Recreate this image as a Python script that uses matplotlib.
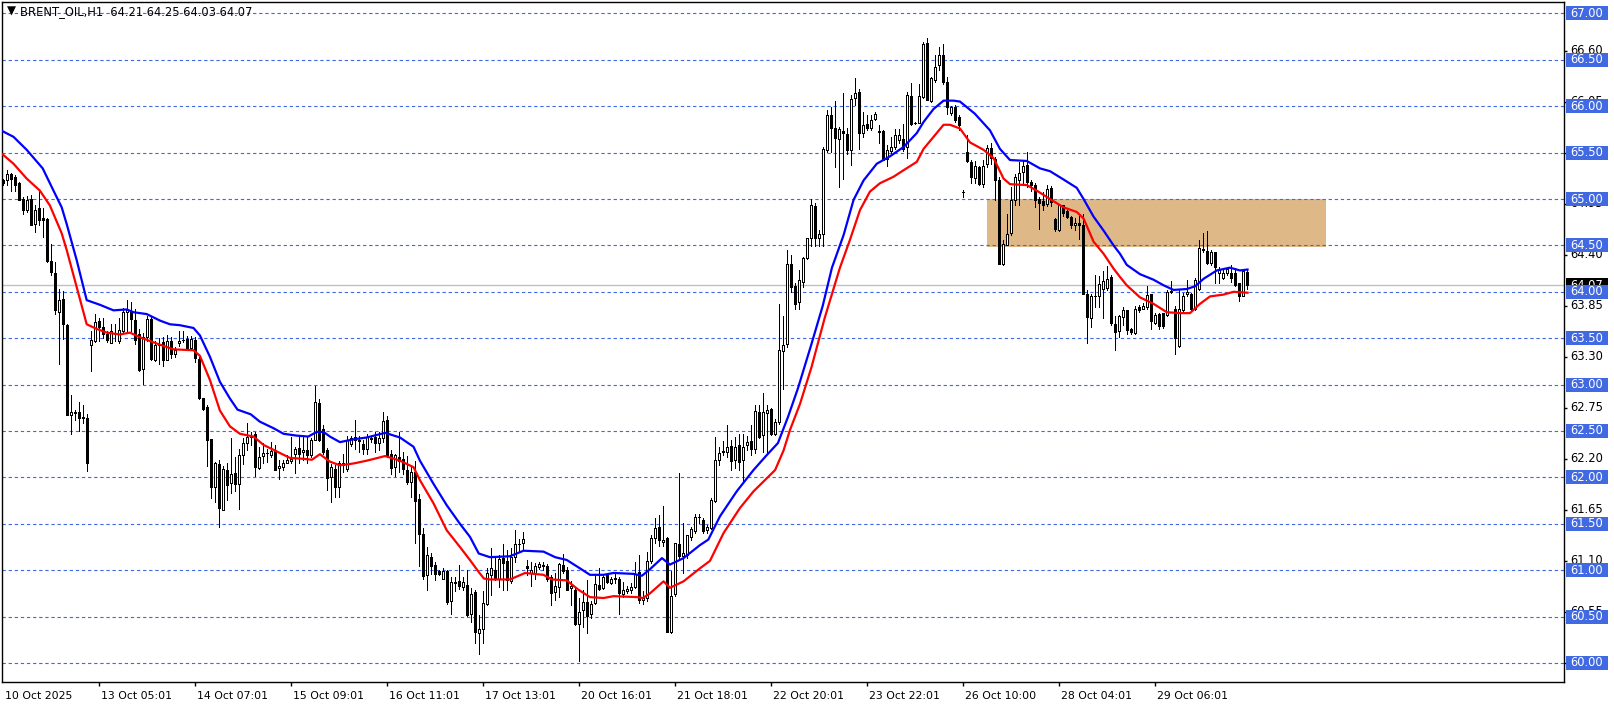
"""BRENT_OIL H1 candlestick chart in the MT4 style (two moving averages + supply zone)."""
import matplotlib

matplotlib.use("Agg")
import matplotlib.pyplot as plt
import numpy as np
from matplotlib.patches import Rectangle
from matplotlib.transforms import IdentityTransform, blended_transform_factory, offset_copy

SYMBOL = "BRENT_OIL,H1"

# hourly bars, oldest first (bar index 0..311)
OPEN = [
    65.20, 65.21, 65.27, 65.24, 65.17, 65.00, 64.88, 65.00, 64.73, 64.90,
    64.79, 64.78, 64.33, 64.20, 63.78, 63.92, 63.64, 62.67, 62.70, 62.71,
    62.65, 62.64, 63.43, 63.47, 63.69, 63.62, 63.55, 63.45, 63.56, 63.47,
    63.58, 63.78, 63.78, 63.70, 63.55, 63.17, 63.51, 63.71, 63.26, 63.43,
    63.46, 63.27, 63.47, 63.33, 63.45, 63.48, 63.49, 63.39, 63.48, 63.28,
    62.86, 62.76, 62.41, 61.90, 62.14, 61.65, 62.08, 61.94, 62.05, 61.93,
    62.24, 62.37, 62.43, 62.47, 62.10, 62.23, 62.26, 62.24, 62.29, 62.10,
    62.11, 62.15, 62.18, 62.25, 62.32, 62.27, 62.30, 62.24, 62.40, 62.80,
    62.52, 62.30, 62.00, 62.09, 61.90, 62.15, 62.09, 62.36, 62.43, 62.40,
    62.36, 62.31, 62.42, 62.43, 62.37, 62.42, 62.62, 62.25, 62.11, 62.22,
    62.20, 62.08, 61.95, 62.06, 61.77, 61.39, 60.95, 61.14, 61.06, 60.99,
    60.91, 60.99, 60.67, 60.86, 60.88, 60.82, 60.84, 60.53, 60.76, 60.32,
    60.37, 60.64, 60.95, 61.00, 60.90, 61.13, 61.10, 60.88, 61.14, 61.28,
    61.29, 61.05, 60.97, 60.97, 61.03, 61.06, 61.04, 60.93, 60.76, 60.82,
    61.06, 61.00, 60.81, 60.79, 60.42, 60.57, 60.66, 60.53, 60.65, 60.84,
    60.81, 60.95, 60.86, 60.91, 60.91, 60.74, 60.78, 60.79, 60.82, 60.98,
    60.68, 60.70, 61.10, 61.35, 61.46, 61.30, 61.35, 60.33, 60.74, 61.28,
    61.15, 61.16, 61.36, 61.42, 61.57, 61.54, 61.43, 61.45, 61.75, 62.19,
    62.27, 62.27, 62.34, 62.19, 62.35, 62.19, 62.35, 62.39, 62.31, 62.70,
    62.46, 62.69, 62.74, 62.47, 62.60, 63.36, 63.44, 64.30, 64.06, 63.89,
    64.11, 64.36, 64.58, 64.92, 64.58, 64.62, 65.53, 65.90, 65.77, 65.65,
    65.73, 65.70, 65.53, 66.09, 66.15, 65.71, 65.81, 65.76, 65.86, 65.73,
    65.73, 65.43, 65.52, 65.56, 65.64, 65.65, 65.56, 66.11, 65.82, 65.82,
    66.10, 66.68, 66.06, 66.28, 66.44, 66.55, 66.26, 65.93, 65.99, 65.88,
    65.08, 65.51, 65.40, 65.23, 65.34, 65.16, 65.38, 65.55, 65.43, 65.20,
    64.30, 64.50, 64.63, 64.99, 65.21, 65.29, 65.37, 65.18, 65.15, 65.00,
    64.98, 64.95, 65.12, 64.78, 64.67, 64.93, 64.87, 64.81, 64.72, 64.74,
    64.72, 63.98, 63.72, 63.95, 63.95, 64.03, 64.04, 64.16, 63.65, 63.58,
    63.73, 63.80, 63.60, 63.56, 63.84, 63.82, 63.84, 63.98, 63.66, 63.76,
    63.77, 63.75, 64.00, 63.81, 63.42, 63.80, 63.98, 63.98, 63.82, 64.03,
    64.45, 64.44, 64.31, 64.43, 64.20, 64.15, 64.20, 64.20, 64.20, 64.09,
    63.95, 64.21,
]
HIGH = [
    65.22, 65.31, 65.28, 65.26, 65.18, 65.02, 65.03, 65.04, 64.94, 65.09,
    64.90, 64.80, 64.52, 64.32, 64.03, 64.01, 63.65, 62.89, 62.73, 62.81,
    62.78, 62.68, 63.58, 63.76, 63.72, 63.72, 63.58, 63.65, 63.65, 63.72,
    63.83, 63.91, 63.89, 63.81, 63.60, 63.56, 63.74, 63.74, 63.47, 63.50,
    63.51, 63.53, 63.51, 63.41, 63.58, 63.58, 63.52, 63.52, 63.51, 63.30,
    62.86, 62.78, 62.41, 62.17, 62.19, 62.12, 62.15, 62.42, 62.22, 62.31,
    62.42, 62.59, 62.49, 62.49, 62.33, 62.37, 62.31, 62.38, 62.35, 62.19,
    62.19, 62.24, 62.44, 62.33, 62.44, 62.44, 62.43, 62.42, 62.98, 62.85,
    62.56, 62.32, 62.14, 62.13, 62.18, 62.25, 62.45, 62.45, 62.62, 62.45,
    62.40, 62.47, 62.45, 62.49, 62.49, 62.70, 62.66, 62.29, 62.25, 62.49,
    62.27, 62.23, 62.11, 62.18, 61.82, 61.45, 61.25, 61.19, 61.09, 61.00,
    61.02, 61.00, 60.93, 60.93, 61.06, 60.93, 61.00, 60.81, 60.79, 60.52,
    60.78, 61.02, 61.24, 61.13, 61.16, 61.28, 61.22, 61.24, 61.43, 61.34,
    61.41, 61.11, 61.09, 61.08, 61.09, 61.09, 61.07, 60.95, 60.97, 61.08,
    61.17, 61.03, 60.88, 60.82, 60.70, 60.79, 60.89, 60.67, 60.94, 61.02,
    60.96, 60.96, 60.93, 60.96, 60.93, 60.87, 60.83, 60.86, 61.09, 61.16,
    60.78, 61.20, 61.38, 61.56, 61.59, 61.69, 61.36, 60.99, 61.29, 62.05,
    61.51, 61.38, 61.47, 61.61, 61.61, 61.56, 61.49, 61.78, 62.44, 62.33,
    62.39, 62.56, 62.40, 62.44, 62.47, 62.47, 62.45, 62.56, 62.78, 62.78,
    62.91, 62.78, 62.75, 62.63, 63.87, 63.74, 64.45, 64.40, 64.10, 64.24,
    64.38, 64.58, 65.00, 64.96, 64.67, 65.56, 65.96, 65.99, 66.06, 65.78,
    66.14, 65.76, 66.12, 66.30, 66.19, 65.94, 65.90, 65.90, 65.94, 65.80,
    65.74, 65.58, 65.67, 65.75, 65.75, 65.81, 66.15, 66.25, 65.83, 66.24,
    66.69, 66.74, 66.31, 66.55, 66.64, 66.67, 66.31, 66.00, 66.01, 65.90,
    65.10, 65.69, 65.42, 65.41, 65.36, 65.42, 65.58, 65.60, 65.45, 65.24,
    64.56, 64.84, 65.13, 65.27, 65.40, 65.42, 65.51, 65.20, 65.17, 65.02,
    65.08, 65.15, 65.14, 64.80, 64.95, 64.94, 64.88, 64.82, 64.80, 64.82,
    64.84, 64.02, 63.98, 64.18, 64.17, 64.22, 64.28, 64.18, 63.74, 63.75,
    63.84, 63.80, 63.61, 63.85, 63.86, 63.88, 64.06, 63.98, 63.77, 63.77,
    63.77, 64.02, 64.12, 63.85, 64.02, 63.99, 64.13, 63.99, 64.15, 64.56,
    64.63, 64.66, 64.45, 64.43, 64.27, 64.25, 64.27, 64.29, 64.26, 64.09,
    64.23, 64.25,
]
LOW = [
    65.15, 65.15, 65.09, 65.09, 64.99, 64.84, 64.86, 64.72, 64.64, 64.72,
    64.59, 64.32, 64.18, 63.76, 63.22, 63.49, 62.67, 62.47, 62.62, 62.50,
    62.59, 62.07, 63.15, 63.46, 63.47, 63.50, 63.46, 63.45, 63.47, 63.45,
    63.57, 63.58, 63.58, 63.44, 63.15, 63.01, 63.47, 63.26, 63.25, 63.22,
    63.20, 63.27, 63.29, 63.30, 63.42, 63.46, 63.37, 63.37, 63.24, 62.85,
    62.73, 62.12, 61.78, 61.74, 61.47, 61.65, 61.76, 61.83, 61.85, 61.66,
    62.14, 62.29, 62.35, 62.01, 62.09, 62.16, 62.17, 62.22, 62.08, 61.98,
    62.08, 62.15, 62.15, 62.05, 62.15, 62.19, 62.16, 62.22, 62.40, 62.39,
    62.25, 61.86, 61.73, 61.79, 61.79, 62.06, 62.07, 62.34, 62.31, 62.27,
    62.25, 62.25, 62.38, 62.27, 62.29, 62.38, 62.22, 62.04, 62.02, 62.06,
    62.04, 61.93, 61.79, 61.29, 61.04, 60.91, 60.79, 60.96, 60.89, 60.95,
    60.91, 60.64, 60.53, 60.78, 60.80, 60.79, 60.51, 60.44, 60.21, 60.10,
    60.21, 60.62, 60.73, 60.89, 60.82, 60.79, 60.79, 60.86, 61.09, 61.20,
    61.22, 60.95, 60.83, 60.91, 61.01, 61.00, 60.88, 60.63, 60.68, 60.71,
    60.97, 60.79, 60.62, 60.41, 60.02, 60.39, 60.32, 60.48, 60.64, 60.79,
    60.80, 60.86, 60.85, 60.86, 60.53, 60.71, 60.75, 60.75, 60.81, 60.65,
    60.64, 60.67, 61.08, 61.29, 61.26, 61.26, 60.33, 60.32, 60.72, 61.13,
    60.97, 61.13, 61.33, 61.40, 61.51, 61.40, 61.40, 61.44, 61.74, 62.13,
    62.24, 62.22, 62.08, 62.10, 62.08, 61.95, 62.29, 62.24, 62.26, 62.42,
    62.27, 62.27, 62.46, 62.46, 62.58, 62.95, 63.40, 64.00, 63.81, 63.81,
    64.05, 64.35, 64.49, 64.49, 64.49, 64.49, 65.51, 65.51, 65.35, 65.13,
    65.22, 65.49, 65.37, 66.01, 65.54, 65.67, 65.74, 65.74, 65.85, 65.60,
    65.42, 65.36, 65.50, 65.54, 65.60, 65.52, 65.44, 65.80, 65.81, 65.82,
    66.09, 66.07, 66.05, 66.26, 66.39, 66.24, 65.92, 65.91, 65.83, 65.74,
    65.02, 65.40, 65.17, 65.17, 65.15, 65.13, 65.35, 65.38, 64.99, 64.30,
    64.29, 64.50, 64.61, 64.93, 64.93, 65.15, 65.13, 65.09, 64.91, 64.68,
    64.88, 64.92, 64.92, 64.65, 64.66, 64.82, 64.80, 64.69, 64.67, 64.57,
    63.98, 63.45, 63.62, 63.84, 63.84, 63.72, 64.02, 63.64, 63.37, 63.51,
    63.64, 63.55, 63.55, 63.55, 63.78, 63.81, 63.82, 63.60, 63.65, 63.60,
    63.61, 63.74, 63.99, 63.33, 63.41, 63.78, 63.96, 63.80, 63.80, 64.02,
    64.43, 64.30, 64.29, 64.09, 64.09, 64.14, 64.18, 64.11, 64.06, 63.90,
    63.95, 64.03,
]
CLOSE = [
    65.17, 65.27, 65.22, 65.15, 64.99, 64.88, 64.99, 64.72, 64.88, 64.77,
    64.77, 64.33, 64.21, 63.80, 63.91, 63.65, 62.67, 62.70, 62.69, 62.64,
    62.64, 62.16, 63.48, 63.67, 63.62, 63.55, 63.48, 63.58, 63.55, 63.59,
    63.78, 63.80, 63.71, 63.48, 63.16, 63.51, 63.71, 63.28, 63.43, 63.44,
    63.27, 63.47, 63.33, 63.37, 63.47, 63.48, 63.37, 63.49, 63.29, 62.86,
    62.74, 62.40, 61.90, 62.16, 61.67, 62.09, 61.92, 62.04, 61.93, 62.24,
    62.37, 62.43, 62.44, 62.11, 62.22, 62.26, 62.26, 62.28, 62.08, 62.12,
    62.15, 62.19, 62.20, 62.31, 62.25, 62.30, 62.24, 62.40, 62.81, 62.40,
    62.27, 61.99, 62.11, 61.90, 62.15, 62.13, 62.40, 62.42, 62.40, 62.39,
    62.31, 62.43, 62.41, 62.37, 62.42, 62.61, 62.24, 62.10, 62.24, 62.18,
    62.09, 61.95, 62.06, 61.75, 61.39, 60.94, 61.16, 61.05, 60.96, 60.96,
    60.99, 60.66, 60.87, 60.87, 60.83, 60.87, 60.52, 60.74, 60.33, 60.37,
    60.65, 60.97, 61.02, 60.90, 61.12, 61.08, 60.89, 61.14, 61.28, 61.28,
    61.34, 61.02, 61.00, 61.05, 61.07, 61.05, 60.90, 60.75, 60.83, 61.07,
    60.99, 60.79, 60.83, 60.42, 60.55, 60.66, 60.51, 60.64, 60.85, 60.80,
    60.93, 60.87, 60.90, 60.92, 60.75, 60.79, 60.80, 60.82, 60.96, 60.68,
    60.70, 61.10, 61.35, 61.45, 61.32, 61.33, 60.33, 60.72, 61.29, 61.15,
    61.19, 61.38, 61.44, 61.57, 61.57, 61.42, 61.47, 61.76, 62.19, 62.26,
    62.28, 62.33, 62.18, 62.33, 62.17, 62.33, 62.38, 62.31, 62.72, 62.44,
    62.71, 62.73, 62.47, 62.60, 63.37, 63.43, 64.30, 64.05, 63.87, 64.13,
    64.36, 64.58, 64.94, 64.58, 64.62, 65.54, 65.90, 65.76, 65.66, 65.75,
    65.71, 65.53, 66.08, 66.14, 65.71, 65.80, 65.77, 65.85, 65.92, 65.72,
    65.42, 65.53, 65.56, 65.69, 65.69, 65.54, 66.12, 65.81, 65.82, 66.11,
    66.67, 66.07, 66.30, 66.42, 66.55, 66.26, 65.99, 65.99, 65.85, 65.80,
    65.08, 65.41, 65.24, 65.36, 65.16, 65.36, 65.55, 65.44, 65.20, 64.30,
    64.52, 64.62, 64.99, 65.24, 65.28, 65.36, 65.18, 65.15, 64.99, 64.96,
    64.94, 65.11, 64.97, 64.68, 64.94, 64.85, 64.81, 64.72, 64.74, 64.72,
    63.98, 63.73, 63.95, 63.96, 64.08, 64.12, 64.14, 63.66, 63.57, 63.74,
    63.80, 63.59, 63.57, 63.82, 63.80, 63.85, 63.97, 63.68, 63.75, 63.63,
    63.63, 64.00, 64.01, 63.50, 63.82, 63.96, 64.00, 63.82, 64.13, 64.47,
    64.46, 64.31, 64.43, 64.27, 64.25, 64.20, 64.25, 64.15, 64.07, 63.96,
    64.22, 64.07,
]

# moving averages as drawn on the chart (bar position, price)
MA_BLUE_X = [0, 2.7, 6, 10, 12.7, 14.75, 16, 18.5, 21, 24.3, 27.7, 31, 32.7, 36, 39.3,
             41.8, 44.3, 47.7, 49.3, 51.8, 54.3, 56.8, 58.7, 62, 64.3, 67.7, 70.2, 73.5,
             76.4, 78.5, 80.2, 81.8, 84.3, 87.7, 91, 95.6, 99.3, 102.7, 104.3, 107.7, 111,
             114.3, 116.8, 119, 121.8, 126.8, 130.2, 135.2, 138.1, 141, 144.3, 146.8,
             150.2, 152.7, 157.7, 159.8, 161.8, 164.8, 166.8, 170.2, 174.3, 176.4, 179.3,
             183.5, 187.7, 191, 193.8, 196.3, 198.8, 202.2, 205, 207.3, 210.2, 212.7,
             215.2, 218.5, 221.8, 225.2, 228.5, 230.2, 232.7, 235.2, 237.7, 239.3, 243,
             246.8, 249.3, 251.8, 256, 259.3, 261.8, 265.2, 268.5, 270.2, 272.7, 275.2,
             277.7, 279.3, 281, 284.3, 287.7, 290.2, 292.7, 296, 298.1, 300.2, 303.5,
             306.8, 309.3, 311.2]
MA_BLUE_Y = [65.73, 65.67, 65.53, 65.33, 65.09, 64.91, 64.73, 64.34, 63.91, 63.86, 63.80,
             63.81, 63.78, 63.76, 63.69, 63.65, 63.64, 63.61, 63.53, 63.30, 63.03, 62.85,
             62.73, 62.68, 62.60, 62.53, 62.47, 62.45, 62.44, 62.49, 62.49, 62.44, 62.38,
             62.41, 62.43, 62.48, 62.43, 62.33, 62.18, 61.93, 61.70, 61.50, 61.36, 61.18,
             61.14, 61.15, 61.21, 61.20, 61.14, 61.11, 61.02, 60.95, 60.95, 60.97, 60.96,
             60.94, 61.01, 61.13, 61.06, 61.13, 61.27, 61.33, 61.58, 61.85, 62.08, 62.24,
             62.37, 62.65, 62.96, 63.44, 63.85, 64.26, 64.61, 64.99, 65.20, 65.38, 65.46,
             65.56, 65.71, 65.83, 65.97, 66.06, 66.06, 66.05, 65.92, 65.74, 65.54, 65.42,
             65.41, 65.33, 65.30, 65.21, 65.12, 65.00, 64.81, 64.66, 64.50, 64.41, 64.29,
             64.19, 64.13, 64.07, 64.02, 64.03, 64.06, 64.14, 64.23, 64.26, 64.23, 64.24]
MA_RED_X = [0, 2.7, 6, 9.3, 11.8, 14.75, 16, 18.5, 21, 23.5, 26, 29.3, 31.8, 34.3, 36.8,
            39.3, 42.7, 47.7, 49.3, 51.8, 54.3, 56.8, 59.3, 62.7, 65.2, 68.5, 71.8, 75.2,
            77.3, 79.3, 81.8, 84.3, 87.7, 91, 95.6, 99.3, 102.7, 104.3, 107.7, 111, 114.3,
            116.8, 119, 120.3, 121.8, 126.8, 130.6, 135.2, 137.3, 141, 143.9, 146.8, 150.2,
            152.7, 158.5, 160, 161.8, 165.2, 166.8, 170.2, 174.3, 176.8, 180.2, 184.3,
            187.7, 191, 193.1, 195.2, 196.8, 199.3, 202.2, 205.5, 209.3, 211.8, 214.3,
            216.8, 219.3, 222.7, 225.2, 228.5, 230.2, 232.7, 235.2, 236.8, 239.3, 241.8,
            245.2, 247.7, 250.2, 251.8, 256, 258.5, 261.8, 265.2, 268.5, 270.2, 272.7,
            275.2, 277.7, 279.3, 281, 284.3, 287.7, 291, 294.3, 296.8, 299.3, 301.8,
            305.2, 307.7, 311.2]
MA_RED_Y = [65.48, 65.38, 65.22, 65.09, 64.93, 64.63, 64.45, 64.05, 63.65, 63.60, 63.56,
            63.54, 63.56, 63.51, 63.47, 63.43, 63.38, 63.37, 63.31, 63.05, 62.72, 62.55,
            62.47, 62.44, 62.35, 62.28, 62.21, 62.20, 62.19, 62.25, 62.17, 62.13, 62.15,
            62.18, 62.23, 62.18, 62.11, 61.97, 61.72, 61.43, 61.25, 61.11, 60.98, 60.91,
            60.90, 60.90, 60.97, 60.95, 60.90, 60.89, 60.79, 60.71, 60.70, 60.72, 60.71,
            60.70, 60.75, 60.88, 60.81, 60.88, 61.02, 61.10, 61.40, 61.67, 61.85, 61.99,
            62.08, 62.29, 62.51, 62.79, 63.19, 63.72, 64.26, 64.56, 64.88, 65.08, 65.17,
            65.24, 65.31, 65.40, 65.54, 65.67, 65.80, 65.80, 65.76, 65.61, 65.53, 65.44,
            65.22, 65.16, 65.15, 65.09, 65.00, 64.91, 64.86, 64.79, 64.54, 64.41, 64.25,
            64.16, 64.07, 63.94, 63.87, 63.78, 63.77, 63.77, 63.87, 63.95, 63.97, 64.00,
            63.99]

# supply zone rectangle (bar range, price range)
ZONE_BARS = (246.0, 330.8)
ZONE_PRICES = (64.48, 65.00)

DATE_BARS = [0, 24, 48, 72, 96, 120, 144, 168, 192, 216, 240, 264, 288]
DATE_LABELS = ["10 Oct 2025", "13 Oct 05:01", "14 Oct 07:01", "15 Oct 09:01",
               "16 Oct 11:01", "17 Oct 13:01", "20 Oct 16:01", "21 Oct 18:01",
               "22 Oct 20:01", "23 Oct 22:01", "26 Oct 10:00", "28 Oct 04:01",
               "29 Oct 06:01"]
GRID_LEVELS = [60.0, 60.5, 61.0, 61.5, 62.0, 62.5, 63.0, 63.5, 64.0, 64.5, 65.0, 65.5,
               66.0, 66.5, 67.0]
SCALE_LEVELS = [60.00, 60.55, 61.10, 61.65, 62.20, 62.75, 63.30, 63.85, 64.40, 64.95,
                65.50, 66.05, 66.60]

GRID_BLUE = "#4169E1"
W_PX, H_PX = 1614, 706
PX = 72 / 100  # one pixel in points

fig = plt.figure(figsize=(W_PX / 100, H_PX / 100), dpi=100)
ax = fig.add_axes([2 / W_PX, 24 / H_PX, 1562 / W_PX, 680 / H_PX])
ax.set_xlim(-0.175, 390.3)
ax.set_ylim(59.795, 67.123)

# zone + grid underneath the candles
ax.add_patch(Rectangle((ZONE_BARS[0], ZONE_PRICES[0]), ZONE_BARS[1] - ZONE_BARS[0],
                       ZONE_PRICES[1] - ZONE_PRICES[0], fc="#DEB887", ec="none", zorder=1))
for lvl in GRID_LEVELS:
    ax.axhline(lvl, color=GRID_BLUE, lw=0.8, ls=(0, (3, 2.5)), zorder=1.5)
ax.axhline(CLOSE[-1], color="#C0C0C0", lw=1, zorder=1.6)

# candles: 1px wicks, 3px bodies (white inside for bullish bars)
o, h, l, c = (np.asarray(a) for a in (OPEN, HIGH, LOW, CLOSE))
x = np.arange(len(c))
up = c >= o
ax.vlines(x, l, h, color="black", lw=PX, zorder=3, antialiased=False)
ax.bar(x, np.abs(c - o), bottom=np.minimum(o, c), width=0.5,
       color=np.where(up, "white", "black"), edgecolor="black", linewidth=PX,
       zorder=4, antialiased=False)

ax.plot(MA_BLUE_X, MA_BLUE_Y, color="#0000FF", lw=1.6, zorder=5)
ax.plot(MA_RED_X, MA_RED_Y, color="#FF0000", lw=1.6, zorder=5)

for sp in ax.spines.values():
    sp.set_color("black")
    sp.set_linewidth(1)

# time axis
ax.set_xticks(DATE_BARS[1:])
ax.set_xticklabels([])
ax.tick_params(axis="x", length=3, width=1, direction="out", color="black")
tb = offset_copy(blended_transform_factory(ax.transData, ax.transAxes), fig=fig,
                 x=2, y=-14, units="dots")
for b, s in zip(DATE_BARS, DATE_LABELS):
    ax.text(b, 0, s, transform=tb, ha="left", va="center", fontsize=7.8, color="black")

# price axis
ax.yaxis.tick_right()
ax.set_yticks(SCALE_LEVELS)
ax.set_yticklabels([])
ax.tick_params(axis="y", length=2.5, width=1, direction="out", color="black")
tr = offset_copy(blended_transform_factory(ax.transAxes, ax.transData), fig=fig,
                 x=6.5, y=0, units="dots")
for v in SCALE_LEVELS:
    ax.text(1, v, f"{v:.2f}", transform=tr, ha="left", va="center", fontsize=8.3,
            color="black")


def price_label(value, face, z):
    y = ax.transData.transform((0, value))[1]
    fig.add_artist(Rectangle((1566, y - 7), 42, 14, transform=IdentityTransform(),
                             fc=face, ec="none", zorder=z))
    fig.text(1570, y, f"{value:.2f}", transform=IdentityTransform(), color="white",
             ha="left", va="center", fontsize=8.3, zorder=z + 0.5)


price_label(CLOSE[-1], "black", 4)
for lvl in GRID_LEVELS:
    price_label(lvl, GRID_BLUE, 5)

# header
fig.text(11, H_PX - 11, "\u25bc", transform=IdentityTransform(), ha="center",
         va="center", fontsize=8.5, color="black")
fig.text(20, H_PX - 12,
         f"{SYMBOL}  {OPEN[-1]:.2f} {HIGH[-1]:.2f} {LOW[-1]:.2f} {CLOSE[-1]:.2f}",
         transform=IdentityTransform(), ha="left", va="center", fontsize=8.3, color="black")

fig.savefig("out.png", dpi=100)
